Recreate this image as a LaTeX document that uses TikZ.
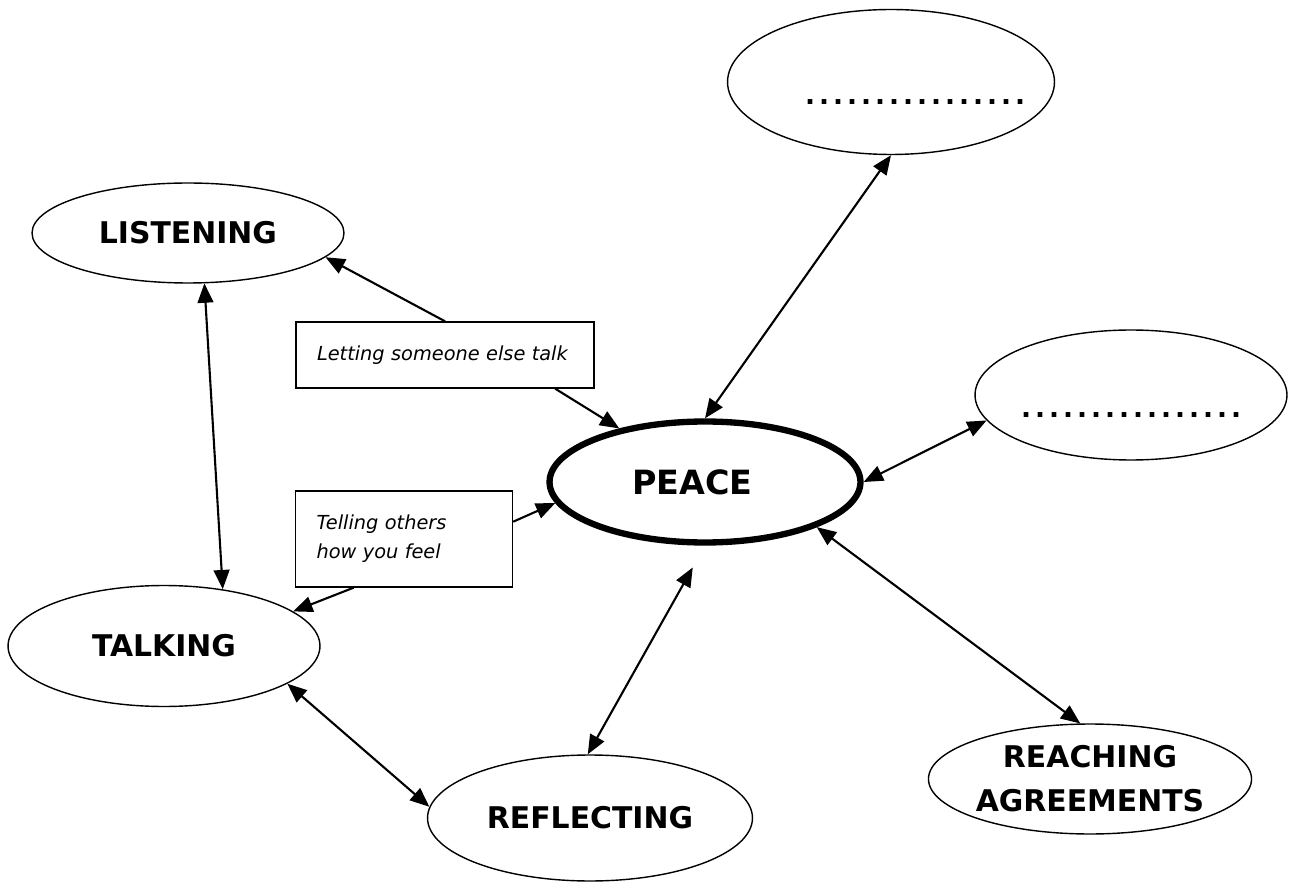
\documentclass[tikz,border=0pt]{standalone}
\usepackage{fontspec}
\setmainfont{DejaVu Sans}
\usetikzlibrary{arrows.meta, shapes.geometric}

\newcommand{\blankdots}{\foreach \d in {1,...,16}{\makebox[0.28cm]{.}}}

\begin{document}
\begin{tikzpicture}[
            x=0.02cm, y=-0.02cm,
            bubble/.style={ellipse, draw, line width=0.8pt, inner sep=0pt, minimum width=6.24cm, minimum height=2.4cm, align=center, font=\fontsize{17}{25}\selectfont\bfseries},
            peacebubble/.style={bubble, line width=3.6pt, font=\fontsize{19}{23}\selectfont\bfseries},
            dotsbubble/.style={bubble, font=\fontsize{15}{15}\selectfont\bfseries},
            notebox/.style={rectangle, draw, line width=0.8pt, inner xsep=0.42cm, inner ysep=0pt, align=left, font=\fontsize{11}{16.5}\selectfont\itshape},
            arrow/.style={-{Triangle[length=11pt, width=9pt]}, line width=1.2pt},
            dblarrow/.style={{Triangle[length=11pt, width=9pt]}-{Triangle[length=11pt, width=9pt]}, line width=1.2pt}
        ]

        \useasboundingbox (0,0) rectangle (1290,884);

        % --- 1. CENTRE ---
        \node[peacebubble, minimum width=6.22cm, minimum height=2.42cm] (peace) at (705,482) {PEACE\hspace{0.5cm}};

        % --- 2. LEFT SIDE ---
        \node[bubble, minimum height=2.0cm] (listening) at (188,233) {LISTENING};
        \node[bubble, minimum height=2.42cm] (talking) at (164,646) {TALKING};
        \node[bubble, minimum width=6.5cm, minimum height=2.52cm] (reflecting) at (590,818) {REFLECTING};

        \node[notebox, text width=5.12cm, minimum height=1.32cm] (letting) at (445,355) {Letting someone else talk};
        \node[notebox, text width=3.5cm, minimum height=1.92cm] (telling) at (404,539) {Telling others\\how you feel};

        % --- 3. RIGHT SIDE ---
        \node[dotsbubble, minimum width=6.54cm, minimum height=2.9cm] (moretop) at (891,82) {\makebox[0pt]{\raisebox{-0.45cm}[0pt][0pt]{\hspace{0.96cm}\blankdots}}};
        \node[dotsbubble, minimum height=2.6cm] (moreright) at (1131,395) {\makebox[0pt]{\raisebox{-0.45cm}[0pt][0pt]{\blankdots}}};
        \node[bubble, minimum width=6.26cm, minimum height=2.2cm] (reaching) at (1090,779) {REACHING\\AGREEMENTS};

        % --- ROUTING ARROWS ---
        \draw[arrow] (letting.north) -- (listening.-10);
        \draw[arrow] (letting.-17) -- (peace.148);
        \draw[arrow] (telling.9) -- (peace.188);
        \draw[arrow] (telling.224) -- (talking.15);
        \draw[dblarrow] (listening.-72) -- (talking.44);
        \draw[dblarrow] (talking.-17) -- (reflecting.176);
        \draw[dblarrow, shorten >=0.5cm] (reflecting.92) -- (peace.south);
        \draw[dblarrow] (peace.north) -- (moretop.south);
        \draw[dblarrow] (peace.east) -- (moreright.190);
        \draw[dblarrow] (peace.-22) -- (reaching.100);

        \end{tikzpicture}
\end{document}
